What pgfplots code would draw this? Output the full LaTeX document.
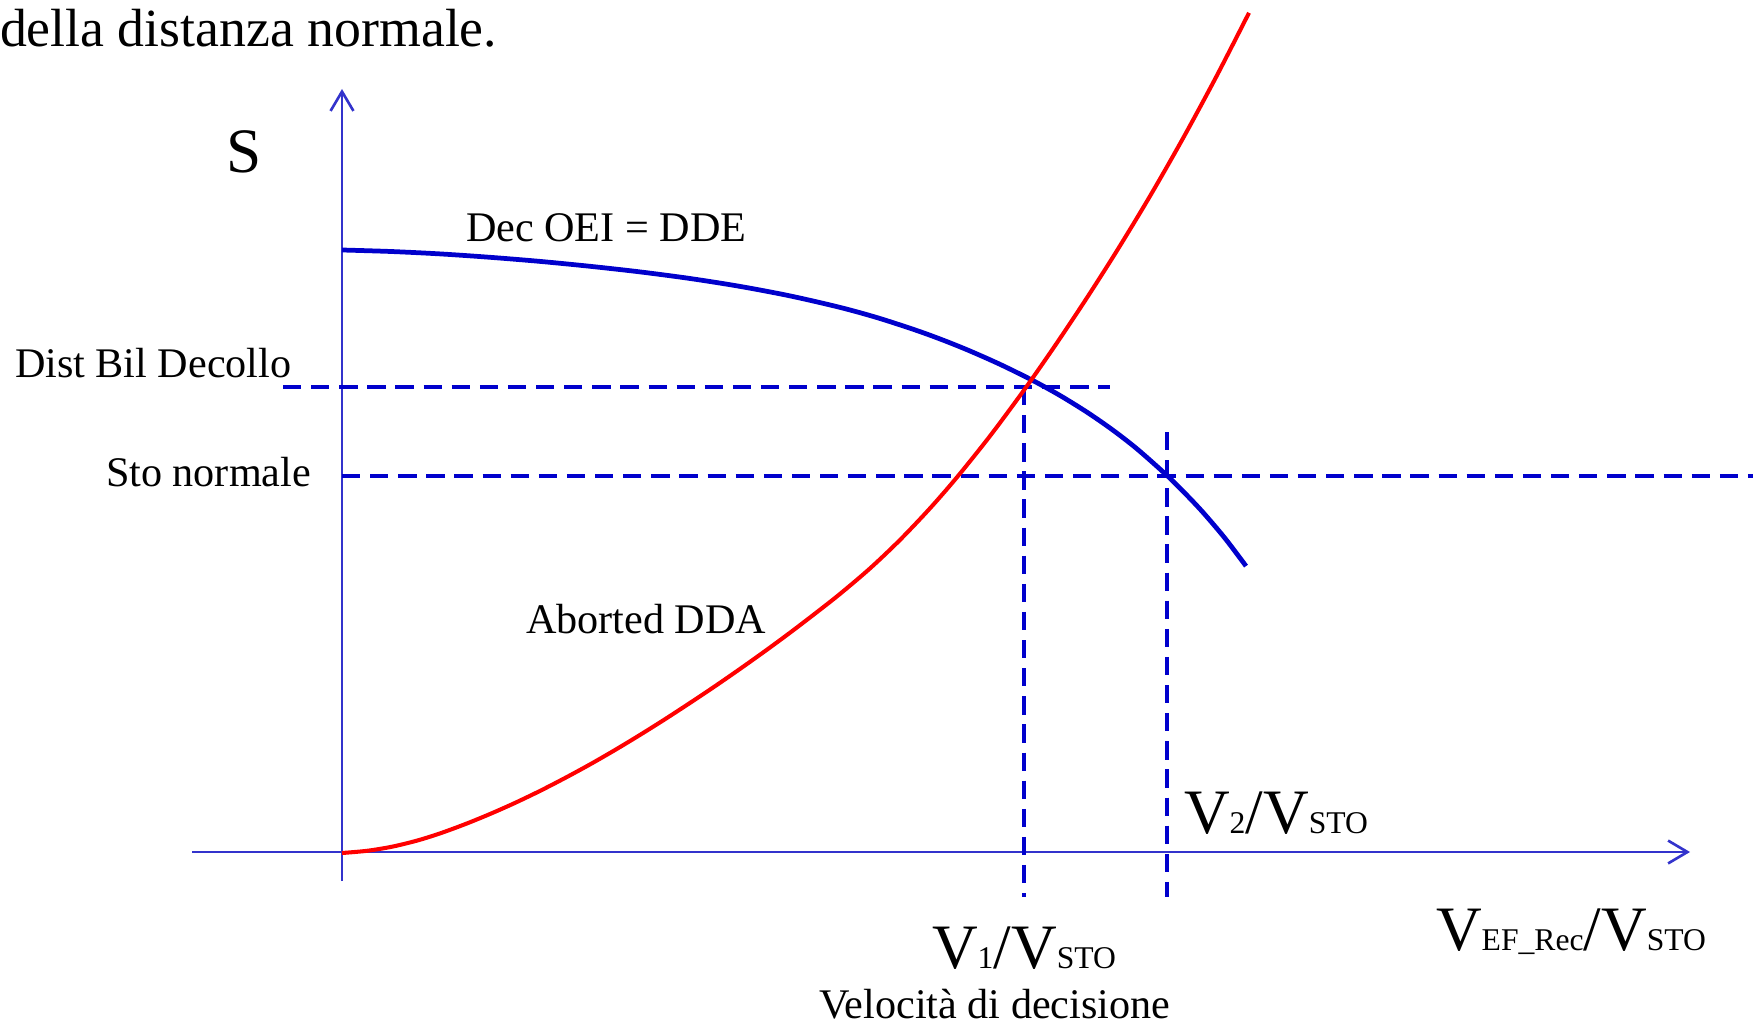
\documentclass[border=0pt]{standalone}
\usepackage{fontspec}
\setmainfont{Liberation Serif}
\usepackage{pgfplots}
\pgfplotsset{compat=1.18}
\usetikzlibrary{arrows.meta}
\definecolor{axblue}{RGB}{51,51,204}
\definecolor{cblue}{RGB}{0,0,204}
\definecolor{cred}{RGB}{255,0,0}
\newcommand{\BigF}{\fontsize{18}{20}\selectfont}
\newcommand{\SubF}{\fontsize{9}{10}\selectfont}
\tikzset{lbl/.style={inner sep=0pt, outer sep=0pt, anchor=base west}}
\begin{document}
\begin{tikzpicture}
\begin{axis}[
  scale only axis, width=17.53cm, height=10.27cm,
  xmin=0, xmax=1753, ymin=0, ymax=1027,
  hide axis, clip=false,
]
% axes
\addplot[axblue, line width=0.75pt, -{Straight Barb[length=5.5pt,width=6.5pt]}] coordinates {(342,146) (342,938)};
\addplot[axblue, line width=0.75pt, -{Straight Barb[length=5.5pt,width=6.5pt]}] coordinates {(192,175) (1690,175)};
% dashed guides
\addplot[cblue, line width=1.1pt, dash pattern=on 5.2pt off 2.8pt] coordinates {(283,640) (1110,640)};
\addplot[cblue, line width=1.1pt, dash pattern=on 5.2pt off 2.8pt] coordinates {(342,551) (1753,551)};
\addplot[cblue, line width=1.1pt, dash pattern=on 5.2pt off 2.8pt] coordinates {(1024,640) (1024,130)};
\addplot[cblue, line width=1.1pt, dash pattern=on 5.2pt off 2.8pt] coordinates {(1167,595) (1167,130)};
% Dec OEI = DDE
\addplot[cblue, line width=1.35pt, smooth] coordinates {
(342,777) (391,775.5) (440,773.1) (490,769.7) (540,765.6) (590,760.7) (640,755.1)
(690,748.5) (740,740.6) (790,731.1) (840,719.6) (878,709.1) (917,696.4) (944,686.5)
(970,676.0) (1001,662.2) (1033,646.4) (1060,631.5) (1087,614.8) (1112,597.5)
(1137,578.1) (1167,551.5) (1185,533.7) (1203,514.6) (1225,488.7) (1246,460.9)};
% Aborted DDA
\addplot[cred, line width=1.15pt, smooth] coordinates {
(342,174) (367,176.2) (392,180.3) (417,186.4) (440,193.6) (465,202.8) (490,213.0)
(515,224.1) (540,236.1) (565,249.0) (590,262.6) (615,277.0) (640,292.1) (665,307.8)
(690,324.1) (715,340.8) (740,358.1) (765,375.9) (790,394.3) (815,413.4) (840,433.1)
(870,458.6) (900,487.1) (930,518.7) (957,549.8) (990,591.0) (1024,636.9)
(1055,681.3) (1086,727.8) (1117,776.4) (1150,830.9) (1183,888.7) (1216,949.8)
(1249,1014.2)};
% texts
\node[lbl] at (axis cs:0,980) {\fontsize{15.3}{17}\selectfont della distanza normale.};
\node[lbl] at (axis cs:226,854) {\BigF S};
\node[lbl] at (axis cs:466,785) {\fontsize{12}{14}\selectfont Dec OEI = DDE};
\node[lbl] at (axis cs:15,650) {\fontsize{12}{14}\selectfont Dist Bil Decollo};
\node[lbl] at (axis cs:106,541) {\fontsize{12}{14}\selectfont Sto normale};
\node[lbl] at (axis cs:526,394) {\fontsize{12}{14}\selectfont Aborted DDA};
\node[lbl] at (axis cs:1184,194) {\BigF V\SubF 2\BigF /V\SubF STO};
\node[lbl] at (axis cs:932,59) {\BigF V\SubF 1\BigF /V\SubF STO};
\node[lbl] at (axis cs:819,9) {\fontsize{12}{14}\selectfont Velocità di decisione};
\node[lbl] at (axis cs:1436,77) {\BigF V\SubF EF\_Rec\BigF /V\SubF STO};
\end{axis}
\pgfresetboundingbox
\path (0,0) rectangle (17.53cm,10.27cm);
\end{tikzpicture}
\end{document}
